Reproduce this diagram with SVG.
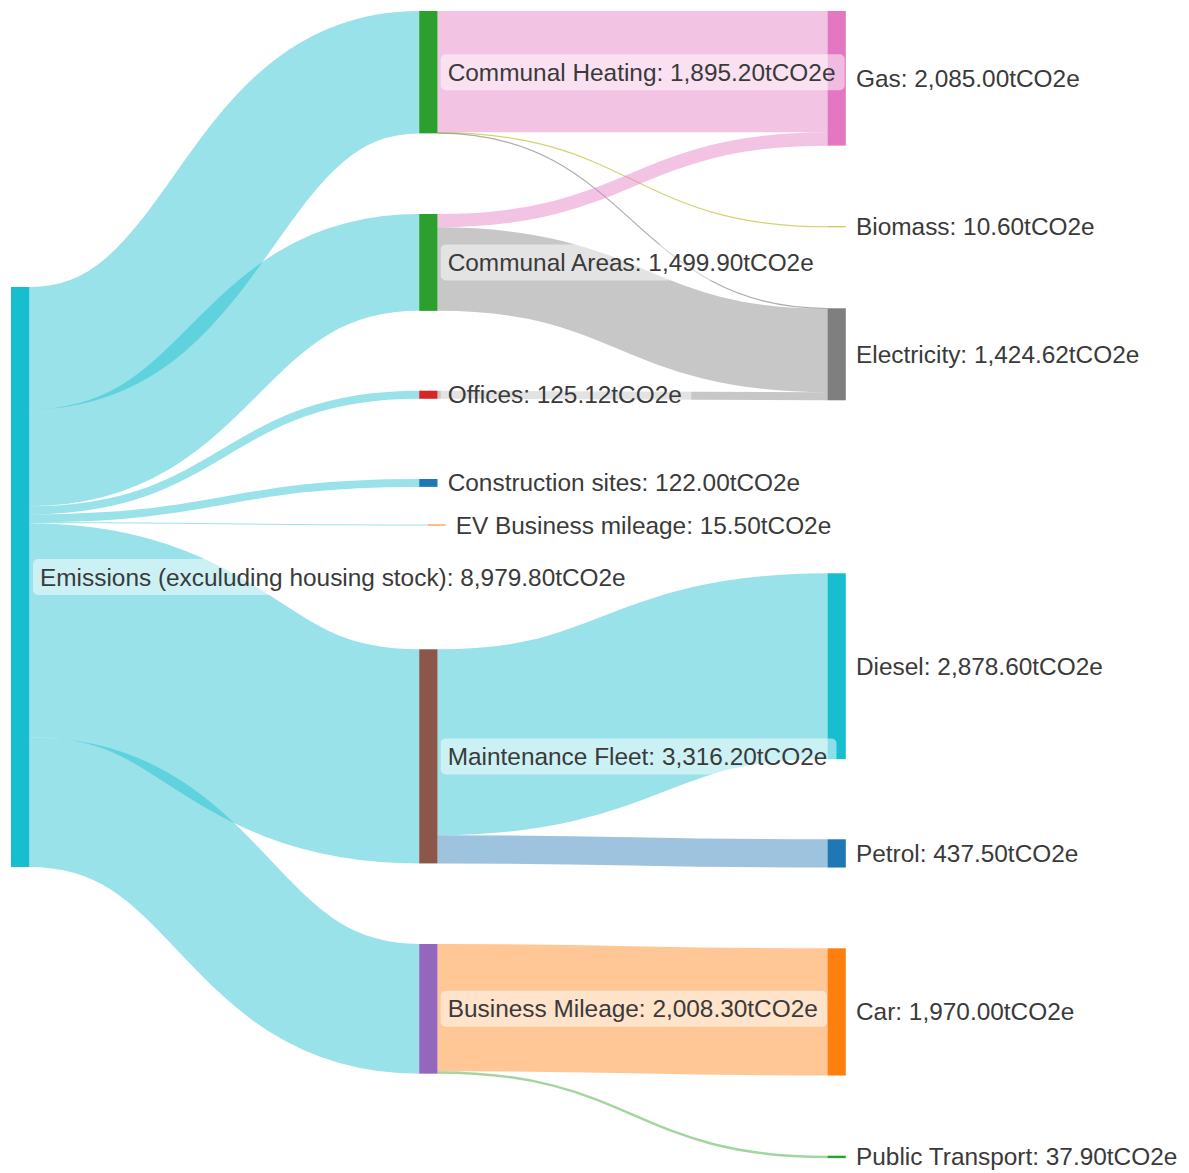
<svg xmlns="http://www.w3.org/2000/svg" width="1189" height="1173" viewBox="0 0 1189 1173">
<style>
  .lk { fill: none; stroke-opacity: 0.44; }
  .cy { stroke: #17becf; }
  .pk { stroke: #e377c2; }
  .gy { stroke: #7f7f7f; }
  .thin { stroke-opacity: 0.65; stroke-width: 1.2; }
  .ol { stroke: #bcbd22; }
  .bl { stroke: #1f77b4; }
  .or { stroke: #ff7f0e; }
  .gn { stroke: #2ca02c; }
  .bg { fill: #ffffff; fill-opacity: 0.5; }
  text { font-family: "Liberation Sans", Arial, sans-serif; font-size: 24.4px; fill: #3a3a3a; }
</style>
<rect width="1189" height="1173" fill="#ffffff"/>
<g id="links">
  <path class="lk cy" stroke-width="122.37" d="M29.3,348.19 C224.25,348.19 224.25,72.19 419.2,72.19"/>
  <path class="lk cy" stroke-width="96.85" d="M29.3,457.8 C224.25,457.8 224.25,262.43 419.2,262.43"/>
  <path class="lk cy" stroke-width="8.08" d="M29.3,510.26 C224.25,510.26 224.25,394.74 419.2,394.74"/>
  <path class="lk cy" stroke-width="7.88" d="M29.3,518.24 C224.25,518.24 224.25,482.94 419.2,482.94"/>
  <path class="lk cy" stroke-width="1" d="M29.3,522.68 C228.5,522.68 228.5,525 427.7,525"/>
  <path class="lk cy" stroke-width="214.13" d="M29.3,630.25 C224.25,630.25 224.25,756.37 419.2,756.37"/>
  <path class="lk cy" stroke-width="129.68" d="M29.3,802.15 C224.25,802.15 224.25,1008.84 419.2,1008.84"/>
  <path class="lk pk" stroke-width="121.33" d="M437.5,71.67 C632.5,71.67 632.5,71.67 827.5,71.67"/>
  <path class="lk ol thin" d="M437.5,132.67 C632.5,132.67 632.5,226.75 827.5,226.75"/>
  <path class="lk gy thin" d="M437.5,133.19 C632.5,133.19 632.5,308.48 827.5,308.48"/>
  <path class="lk pk" stroke-width="13.3" d="M437.5,220.65 C632.5,220.65 632.5,138.98 827.5,138.98"/>
  <path class="lk gy" stroke-width="83.55" d="M437.5,269.08 C632.5,269.08 632.5,350.43 827.5,350.43"/>
  <path class="lk gy" stroke-width="8.08" d="M437.5,394.74 C632.5,394.74 632.5,396.25 827.5,396.25"/>
  <path class="lk cy" stroke-width="185.87" d="M437.5,742.24 C632.5,742.24 632.5,666.24 827.5,666.24"/>
  <path class="lk bl" stroke-width="28.25" d="M437.5,849.3 C632.5,849.3 632.5,853.42 827.5,853.42"/>
  <path class="lk or" stroke-width="127.2" d="M437.5,1007.6 C632.5,1007.6 632.5,1011.9 827.5,1011.9"/>
  <path class="lk gn" stroke-width="2.45" d="M437.5,1072.43 C632.5,1072.43 632.5,1156.93 827.5,1156.93"/>
</g>
<g id="node-gas"><rect x="827.5" y="11" width="18.3" height="134.63" fill="#e377c2"/><text x="856" y="86.8">Gas: 2,085.00tCO2e</text></g>
<g id="node-biomass"><rect x="827.5" y="226.25" width="18.3" height="1" fill="#bcbd22"/><text x="856" y="235.2">Biomass: 10.60tCO2e</text></g>
<g id="node-electricity"><rect x="827.5" y="308.3" width="18.3" height="91.99" fill="#7f7f7f"/><text x="856" y="362.8">Electricity: 1,424.62tCO2e</text></g>
<g id="node-diesel"><rect x="827.5" y="573.3" width="18.3" height="185.87" fill="#17becf"/><text x="856" y="674.7">Diesel: 2,878.60tCO2e</text></g>
<g id="node-petrol"><rect x="827.5" y="839.3" width="18.3" height="28.25" fill="#1f77b4"/><text x="856" y="861.9">Petrol: 437.50tCO2e</text></g>
<g id="node-car"><rect x="827.5" y="948.3" width="18.3" height="127.2" fill="#ff7f0e"/><text x="856" y="1020.4">Car: 1,970.00tCO2e</text></g>
<g id="node-public-transport"><rect x="827.5" y="1155.7" width="18.3" height="2.45" fill="#2ca02c"/><text x="856" y="1165.4">Public Transport: 37.90tCO2e</text></g>
<g id="node-communal-heating"><rect x="419.2" y="11" width="18.3" height="122.37" fill="#2ca02c"/><rect class="bg" x="440.7" y="54.2" width="404" height="36" rx="5"/><text x="447.7" y="80.7">Communal Heating: 1,895.20tCO2e</text></g>
<g id="node-communal-areas"><rect x="419.2" y="214" width="18.3" height="96.85" fill="#2ca02c"/><rect class="bg" x="440.7" y="244.4" width="383.5" height="36" rx="5"/><text x="447.7" y="270.9">Communal Areas: 1,499.90tCO2e</text></g>
<g id="node-offices"><rect x="419.2" y="390.7" width="18.3" height="8.08" fill="#d62728"/><rect class="bg" x="440.7" y="376.7" width="250.6" height="36" rx="5"/><text x="447.7" y="403.2">Offices: 125.12tCO2e</text></g>
<g id="node-construction"><rect x="419.2" y="479" width="18.3" height="7.88" fill="#1f77b4"/><rect class="bg" x="440.7" y="464.9" width="368.6" height="36" rx="5"/><text x="447.7" y="491.4">Construction sites: 122.00tCO2e</text></g>
<g id="node-ev"><rect x="427.7" y="524.5" width="18" height="1" fill="#ff7f0e"/><rect class="bg" x="448.7" y="507" width="391.7" height="36" rx="5"/><text x="455.7" y="533.5">EV Business mileage: 15.50tCO2e</text></g>
<g id="node-maintenance"><rect x="419.2" y="649.3" width="18.3" height="214.13" fill="#8c564b"/><rect class="bg" x="440.7" y="738.4" width="395.8" height="36" rx="5"/><text x="447.7" y="764.9">Maintenance Fleet: 3,316.20tCO2e</text></g>
<g id="node-business-mileage"><rect x="419.2" y="944" width="18.3" height="129.68" fill="#9467bd"/><rect class="bg" x="440.7" y="990.8" width="386.2" height="36" rx="5"/><text x="447.7" y="1017.3">Business Mileage: 2,008.30tCO2e</text></g>
<g id="node-emissions"><rect x="11" y="287" width="18.3" height="580" fill="#17becf"/><rect class="bg" x="33" y="559" width="602" height="36" rx="5"/><text x="40" y="585.5">Emissions (exculuding housing stock): 8,979.80tCO2e</text></g>
</svg>
